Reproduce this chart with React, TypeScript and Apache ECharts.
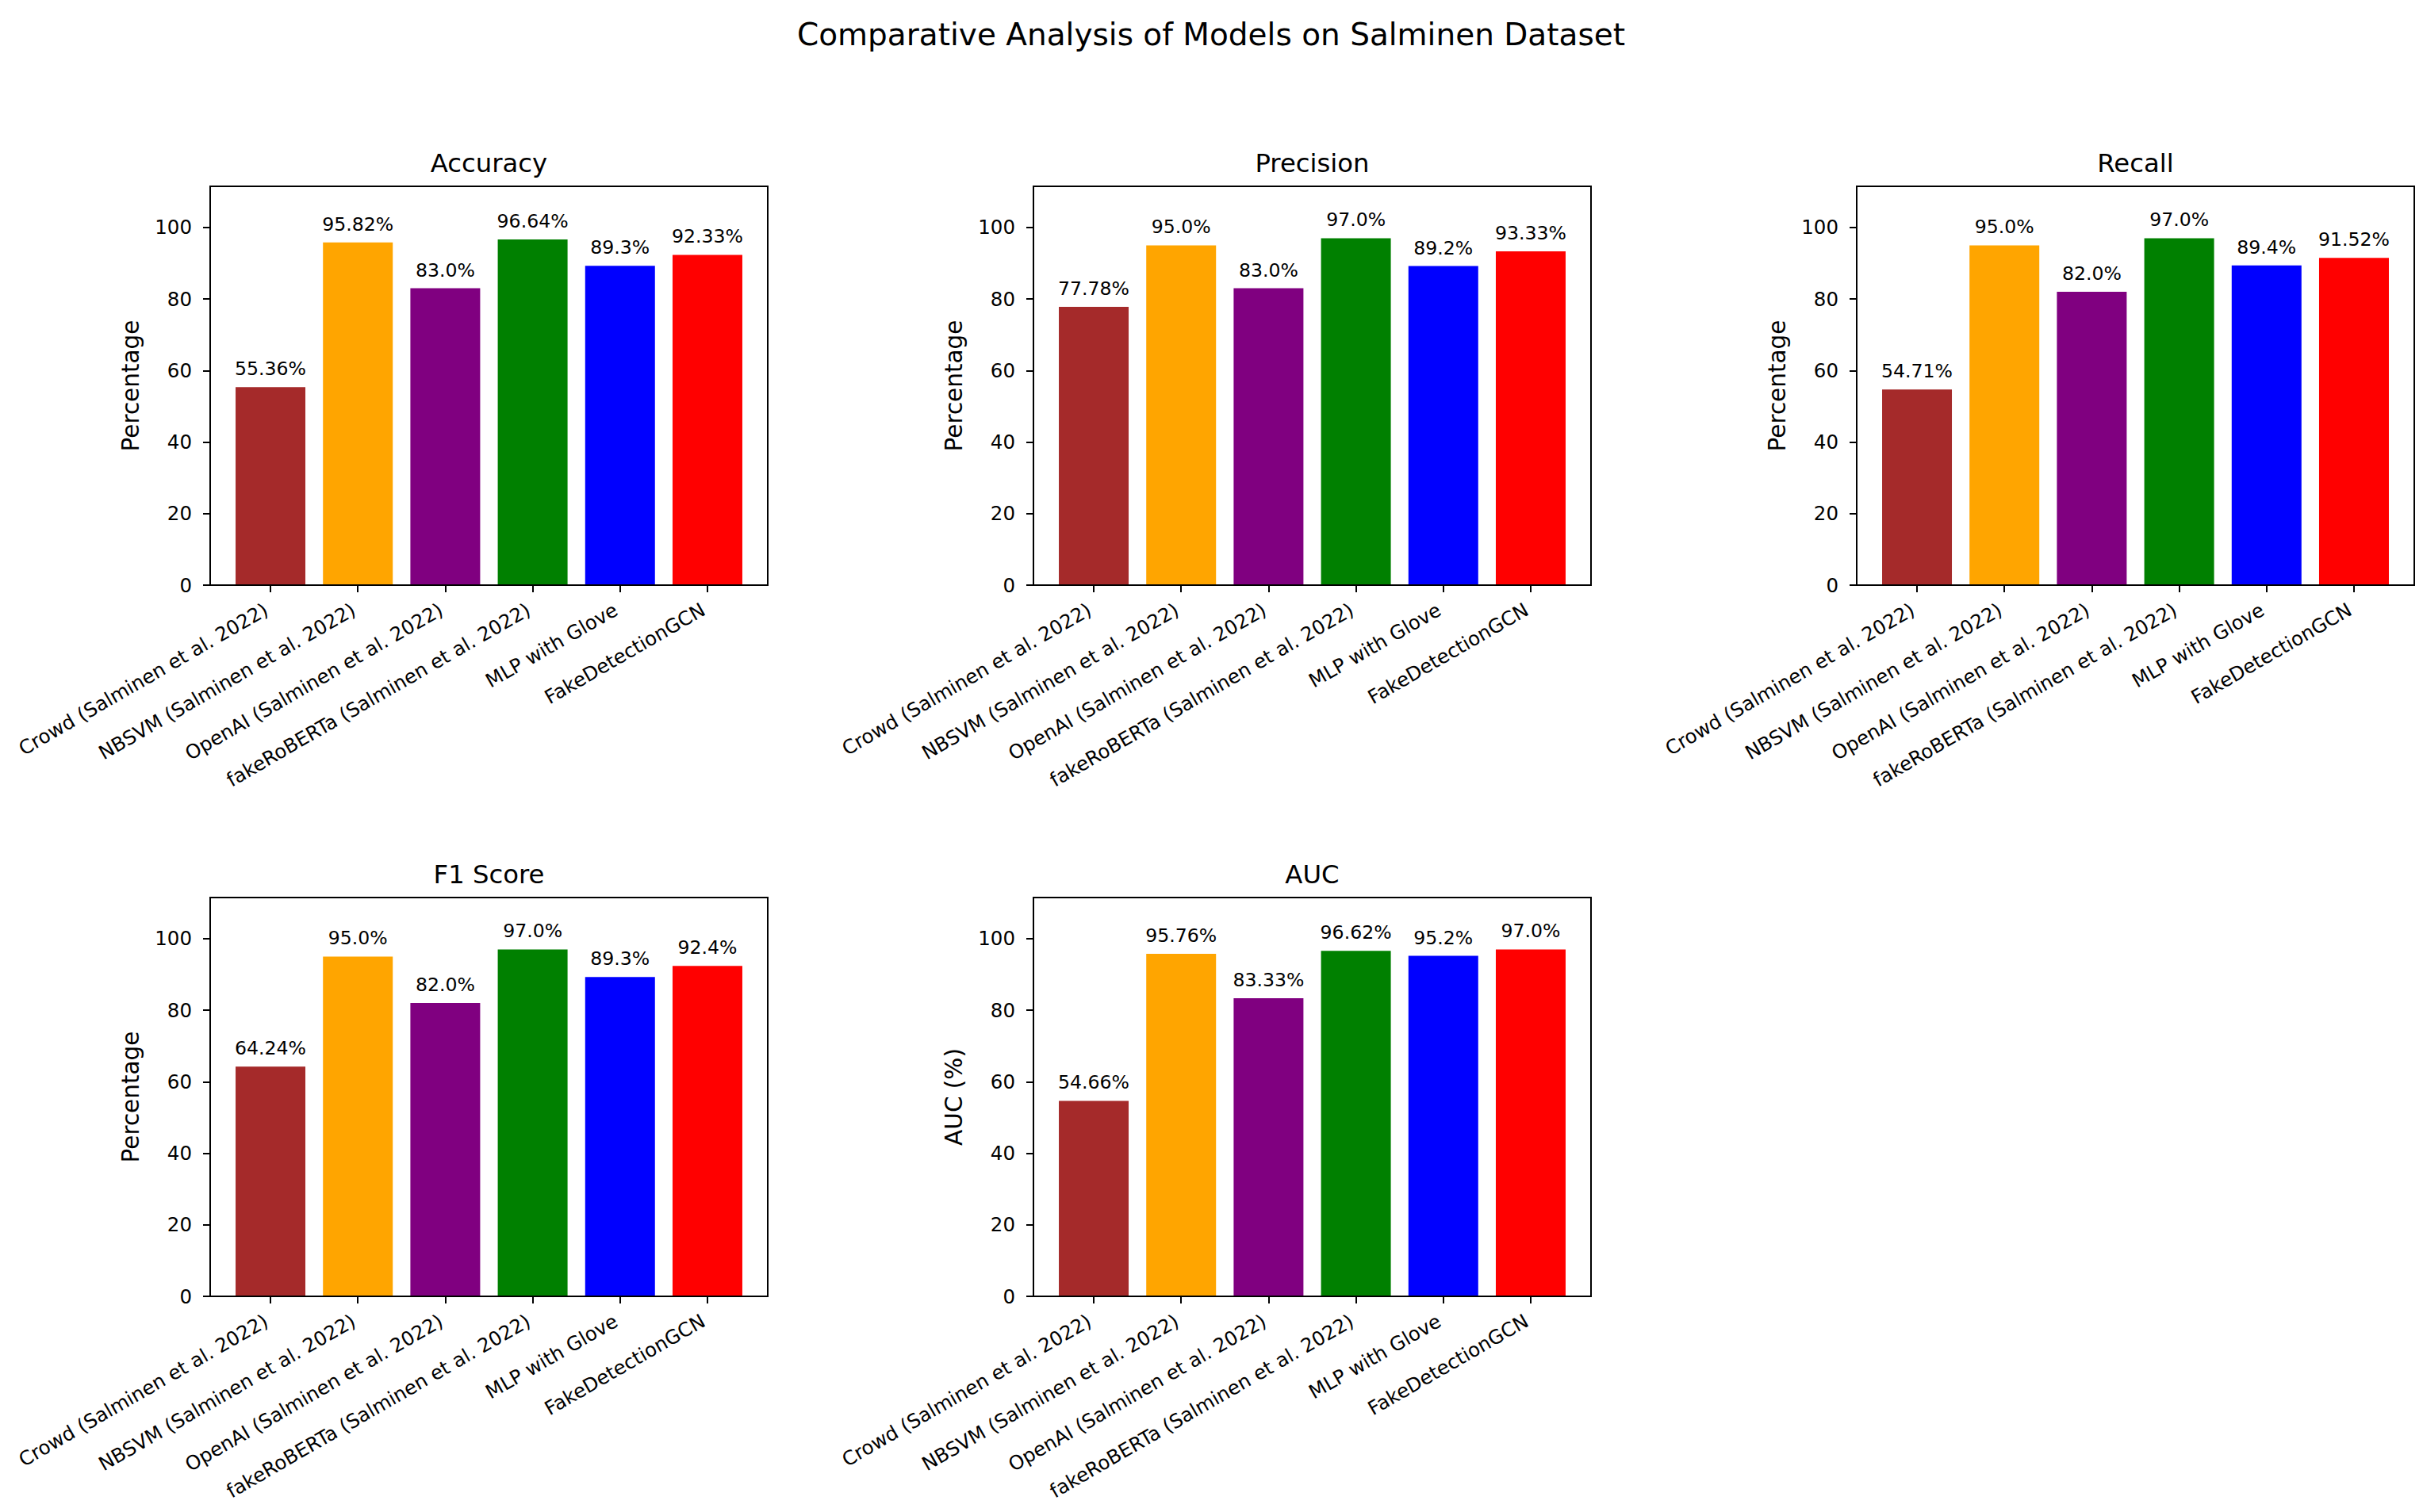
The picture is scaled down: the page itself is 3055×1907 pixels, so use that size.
import React, { useEffect, useRef } from "react";
import * as echarts from "echarts";

const categories = [
  "Crowd (Salminen et al. 2022)",
  "NBSVM (Salminen et al. 2022)",
  "OpenAI (Salminen et al. 2022)",
  "fakeRoBERTa (Salminen et al. 2022)",
  "MLP with Glove",
  "FakeDetectionGCN",
];
const barColors = ["#A52A2A", "#FFA500", "#800080", "#008000", "#0000FF", "#FF0000"];

const accuracy = [55.36, 95.82, 83.0, 96.64, 89.3, 92.33];
const precision = [77.78, 95.0, 83.0, 97.0, 89.2, 93.33];
const recall = [54.71, 95.0, 82.0, 97.0, 89.4, 91.52];
const f1Score = [64.24, 95.0, 82.0, 97.0, 89.3, 92.4];
const auc = [54.66, 95.76, 83.33, 96.62, 95.2, 97.0];

const panelTitles = ["Accuracy", "Precision", "Recall", "F1 Score", "AUC"];
const panelYLabels = ["Percentage", "Percentage", "Percentage", "Percentage", "AUC (%)"];
const panelValues = [accuracy, precision, recall, f1Score, auc];
const yTicks = [0, 20, 40, 60, 80, 100];
const xTicks = [0, 1, 2, 3, 4, 5];
const mainTitle = "Comparative Analysis of Models on Salminen Dataset";

const FONT = "DejaVu Sans";

function fmt(v: number): string {
  return Number.isInteger(v) ? v.toFixed(1) : String(v);
}

export default function App() {
  const ref = useRef<HTMLDivElement>(null);
  useEffect(() => {
    if (!ref.current) return;
    const chart = echarts.init(ref.current, null, { renderer: "svg" });
    const lefts = [265, 1303, 2341];
    const tops = [235, 1132];
    const W = 703;
    const H = 503;
    const grids: any[] = [];
    const xAxes: any[] = [];
    const yAxes: any[] = [];
    const series: any[] = [];
    const graphics: any[] = [];
    panelValues.forEach((vals, i) => {
      const col = i % 3;
      const row = Math.floor(i / 3);
      const left = lefts[col];
      const top = tops[row];
      grids.push({
        left,
        top,
        width: W,
        height: H,
        show: true,
        borderColor: "#000",
        borderWidth: 2,
        backgroundColor: "transparent",
      });
      xAxes.push({
        gridIndex: i,
        type: "value",
        min: -0.69,
        max: 5.69,
        z: 10,
        axisLine: { show: true, onZero: false, lineStyle: { color: "#000", width: 2 } },
        axisTick: { show: true, length: 9, customValues: xTicks, lineStyle: { color: "#000", width: 2 } },
        axisLabel: {
          customValues: xTicks,
          formatter: (v: number) => categories[Math.round(v)] ?? "",
          rotate: 30,
          fontSize: 24.5,
          color: "#000",
          fontFamily: FONT,
          margin: 26,
          padding: [0, 6, 0, 0],
        },
        splitLine: { show: false },
      });
      yAxes.push({
        gridIndex: i,
        type: "value",
        min: 0,
        max: 111.5,
        axisLine: { show: true, onZero: false, lineStyle: { color: "#000", width: 2 } },
        axisTick: { show: true, length: 9, customValues: yTicks, lineStyle: { color: "#000", width: 2 } },
        axisLabel: {
          customValues: yTicks,
          fontSize: 24.5,
          color: "#000",
          fontFamily: FONT,
          margin: 23,
        },
        splitLine: { show: false },
        name: panelYLabels[i],
        nameLocation: "middle",
        nameGap: 85,
        nameTextStyle: { fontSize: 29.5, color: "#000", fontFamily: FONT },
      });
      series.push({
        type: "bar",
        xAxisIndex: i,
        yAxisIndex: i,
        barWidth: 88,
        data: vals.map((v, j) => ({ value: [j, v], itemStyle: { color: barColors[j] } })),
        label: {
          show: true,
          position: "top",
          distance: 11,
          formatter: (p: any) => fmt(p.value[1]) + "%",
          fontSize: 23.6,
          color: "#000",
          fontFamily: FONT,
        },
      });
      graphics.push({
        type: "text",
        x: left + W / 2,
        y: top - 29,
        style: {
          text: panelTitles[i],
          fontSize: 32.3,
          fontFamily: FONT,
          fill: "#000",
          align: "center",
          verticalAlign: "middle",
        },
      });
    });
    graphics.push({
      type: "text",
      x: 1527,
      y: 43.5,
      style: {
        text: mainTitle,
        fontSize: 39,
        fontFamily: FONT,
        fill: "#000",
        align: "center",
        verticalAlign: "middle",
      },
    });
    chart.setOption({
      animation: false,
      backgroundColor: "#fff",
      textStyle: { fontFamily: FONT },
      grid: grids,
      xAxis: xAxes,
      yAxis: yAxes,
      series,
      graphic: graphics,
    });
    return () => chart.dispose();
  }, []);
  return (
    <div
      ref={ref}
      style={{ position: "absolute", left: 0, top: 0, width: 3055, height: 1907 }}
    />
  );
}
